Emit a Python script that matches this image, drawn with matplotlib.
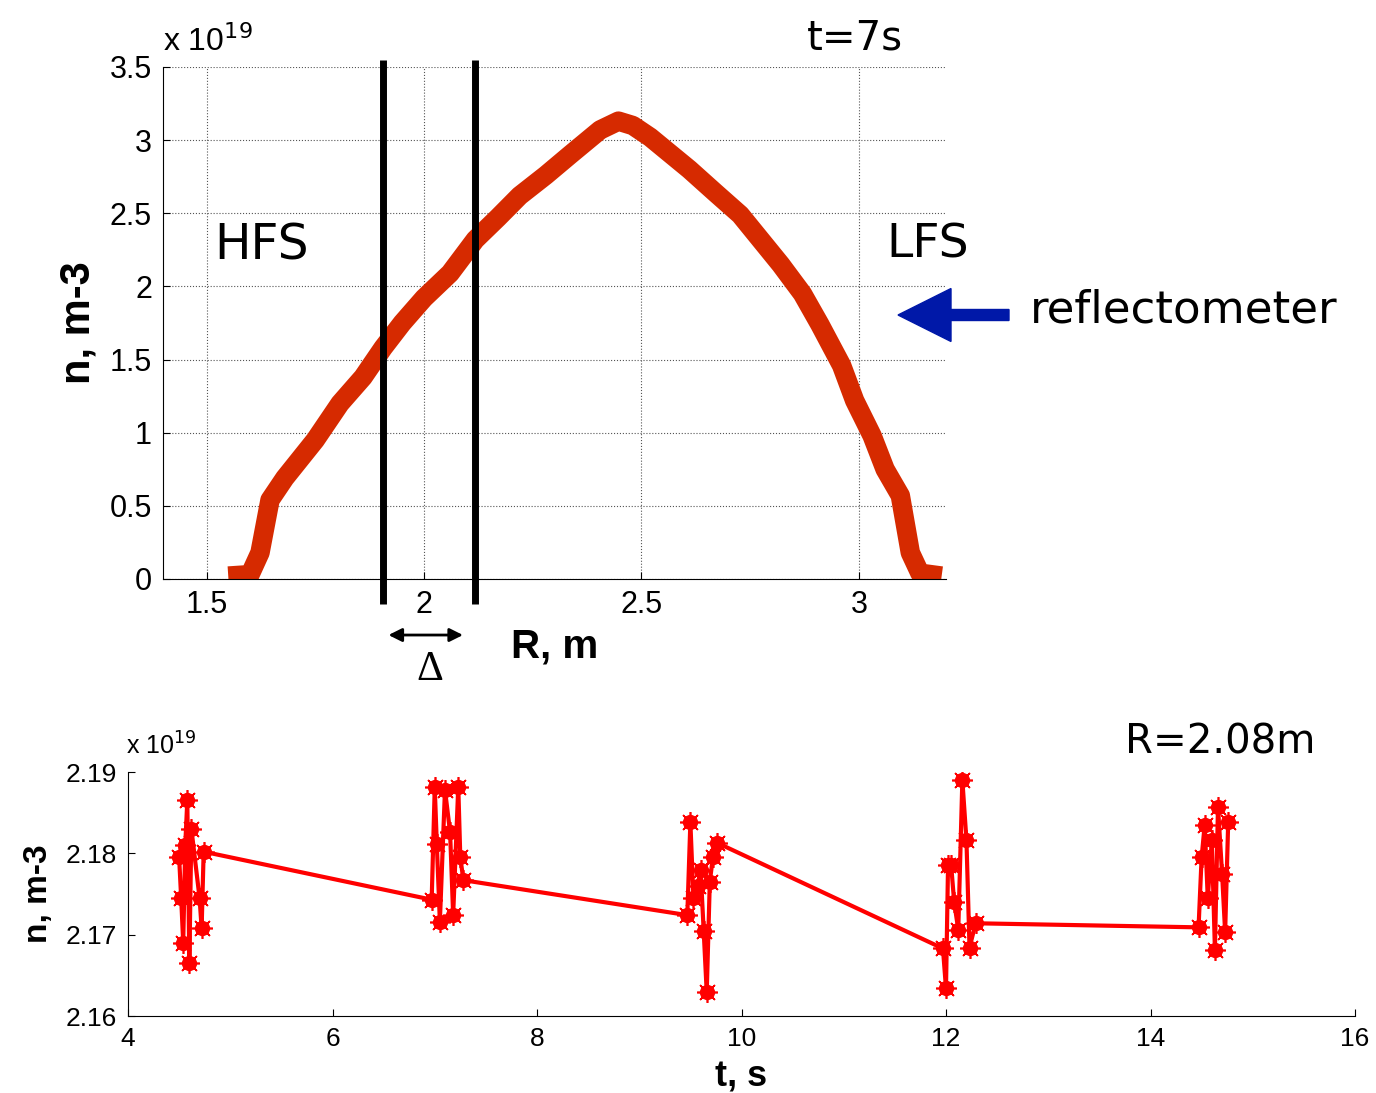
import matplotlib.pyplot as plt
from matplotlib.patches import FancyArrow

# density profile at t=7s (units of 1e19 m^-3)
R_prof = [1.55, 1.60, 1.623, 1.646, 1.68, 1.75, 1.807, 1.86, 1.906, 1.95, 2.00, 2.06,
          2.118, 2.17, 2.22, 2.28, 2.336, 2.405, 2.447, 2.48, 2.52, 2.61, 2.67, 2.727,
          2.82, 2.87, 2.91, 2.96, 2.99, 3.03, 3.06, 3.095, 3.118, 3.14, 3.19]
n_prof = [0.02, 0.03, 0.18, 0.54, 0.69, 0.95, 1.20, 1.38, 1.58, 1.75, 1.92, 2.09,
          2.32, 2.47, 2.62, 2.76, 2.90, 3.07, 3.13, 3.10, 3.02, 2.80, 2.64, 2.49,
          2.15, 1.95, 1.74, 1.46, 1.22, 0.98, 0.75, 0.57, 0.18, 0.04, 0.02]
R_lines = [1.906, 2.118]

# density at R=2.08m vs time (units of 1e19 m^-3)
t_vals = [4.50, 4.52, 4.54, 4.56, 4.58, 4.60, 4.62, 4.70, 4.72, 4.74,
          6.97, 7.00, 7.02, 7.05, 7.10, 7.15, 7.18, 7.23, 7.25, 7.28,
          9.47, 9.50, 9.53, 9.57, 9.60, 9.63, 9.66, 9.69, 9.72, 9.76,
          11.97, 12.00, 12.02, 12.05, 12.08, 12.12, 12.16, 12.20, 12.23, 12.29,
          14.47, 14.50, 14.53, 14.56, 14.60, 14.63, 14.66, 14.70, 14.73, 14.76]
n_vals = [2.1795, 2.1745, 2.1690, 2.1810, 2.1865, 2.1665, 2.1830, 2.1745, 2.1708, 2.1802,
          2.1743, 2.1881, 2.1812, 2.1716, 2.1878, 2.1826, 2.1724, 2.1882, 2.1795, 2.1767,
          2.1724, 2.1838, 2.1745, 2.1760, 2.1780, 2.1705, 2.1629, 2.1765, 2.1795, 2.1813,
          2.1683, 2.1634, 2.1786, 2.1786, 2.1740, 2.1706, 2.1890, 2.1816, 2.1684, 2.1714,
          2.1709, 2.1795, 2.1835, 2.1745, 2.1816, 2.1681, 2.1857, 2.1775, 2.1703, 2.1839]

W, H = 1376, 1093
fig = plt.figure(figsize=(W / 100, H / 100), dpi=100)
plt.rcParams['font.family'] = ['Liberation Sans', 'DejaVu Sans']


def px(x, y):
    return x / W, 1 - y / H


# top panel
ax1 = fig.add_axes([163 / W, 1 - 579 / H, (946 - 163) / W, (579 - 67) / H])
ax1.plot(R_prof, n_prof, color='#d62a00', lw=14, solid_joinstyle='round',
         solid_capstyle='butt')
ax1.vlines(R_lines, -0.171, 3.548, color='black', lw=5, clip_on=False)
ax1.set_xlim(1.4, 3.2)
ax1.set_ylim(0, 3.5)
ax1.set_xticks([1.5, 2, 2.5, 3])
ax1.set_xticklabels(['1.5', '2', '2.5', '3'])
ax1.set_yticks([0, 0.5, 1, 1.5, 2, 2.5, 3, 3.5])
ax1.set_yticklabels(['0', '0.5', '1', '1.5', '2', '2.5', '3', '3.5'])
ax1.grid(True, ls=':', color='#555555', lw=0.8)
for s in ['top', 'right']:
    ax1.spines[s].set_visible(False)
ax1.tick_params(direction='in', length=5, labelsize=22, pad=8)
ax1.set_xlabel('R, m', fontsize=29, fontweight='bold', labelpad=5)
ax1.set_ylabel('n, m-3', fontsize=30, fontweight='bold', labelpad=8)
ax1.annotate('', xy=(1.912, -0.383), xytext=(2.096, -0.383),
             arrowprops=dict(arrowstyle='<|-|>', color='black', lw=2, mutation_scale=20),
             annotation_clip=False)

fig.text(*px(163, 42), r'x 10$^{19}$', fontsize=23, va='center', ha='left')
fig.text(*px(430, 670), '\u0394', fontsize=30, family='Liberation Serif', ha='center', va='center')
fig.text(*px(855, 38), 't=7s', fontsize=29, ha='center', va='center', family='DejaVu Sans')
fig.text(*px(262, 245), 'HFS', fontsize=35, ha='center', va='center', family='DejaVu Sans')
fig.text(*px(928, 245), 'LFS', fontsize=34, ha='center', va='center', family='DejaVu Sans')
fig.text(*px(1030, 310), 'reflectometer', fontsize=32.5, ha='left', va='center', family='DejaVu Sans')

# blue arrow pointing at the LFS edge
fig.patches.append(FancyArrow(1009 / W, 1 - 315 / H, -(1009 - 898) / W, 0,
                              width=11 / H, head_width=53 / H, head_length=53 / W,
                              length_includes_head=True, color='#0018a8',
                              transform=fig.transFigure, figure=fig))

# bottom panel
ax2 = fig.add_axes([128 / W, 1 - 1016 / H, (1355 - 128) / W, (1016 - 772) / H])
ax2.plot(t_vals, n_vals, color='red', lw=3, marker='o', ms=10, mec='red', mfc='red')
ax2.plot(t_vals, n_vals, ls='none', marker=(8, 2, 0), ms=15, mec='red', mew=1.2)
ax2.set_xlim(4, 16)
ax2.set_ylim(2.16, 2.19)
ax2.set_xticks([4, 6, 8, 10, 12, 14, 16])
ax2.set_yticks([2.16, 2.17, 2.18, 2.19])
ax2.set_yticklabels(['2.16', '2.17', '2.18', '2.19'])
for s in ['top', 'right']:
    ax2.spines[s].set_visible(False)
ax2.tick_params(direction='in', length=5, labelsize=19, pad=8)
ax2.set_xlabel('t, s', fontsize=26, fontweight='bold', labelpad=6)
ax2.set_ylabel('n, m-3', fontsize=24, fontweight='bold', labelpad=8)
fig.text(*px(126, 746), r'x 10$^{19}$', fontsize=18, va='center', ha='left')
fig.text(*px(1220, 742), 'R=2.08m', fontsize=29, ha='center', va='center', family='DejaVu Sans')

fig.savefig('out.png', dpi=100)
